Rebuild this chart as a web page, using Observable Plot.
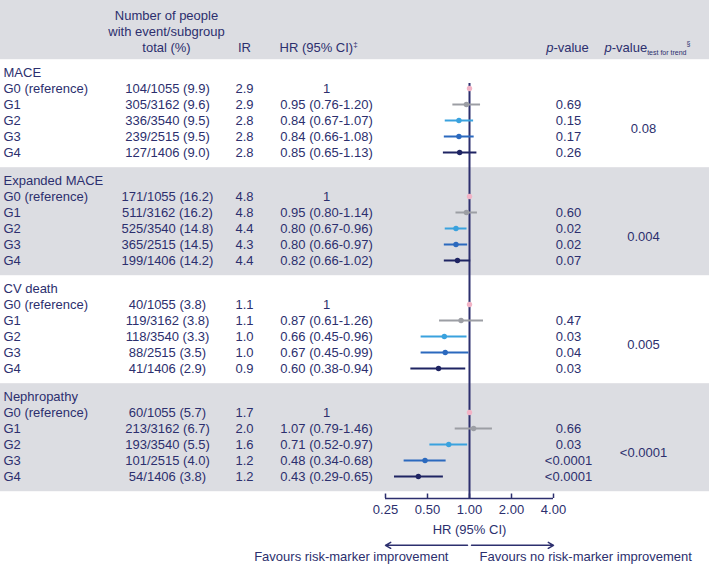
<!DOCTYPE html>
<html><head><meta charset="utf-8">
<script src="https://cdn.jsdelivr.net/npm/d3@7"></script>
<script src="https://cdn.jsdelivr.net/npm/@observablehq/plot@0.6"></script>
<style>
body{margin:0;background:#fff}
#chart{width:709px;height:564px}
</style>
</head><body><div id="chart"></div>
<script>
const sections = ["MACE", "Expanded MACE", "CV death", "Nephropathy"];
const groups = ["G0 (reference)", "G1", "G2", "G3", "G4"];
const events = [
  ["104/1055 (9.9)", "305/3162 (9.6)", "336/3540 (9.5)", "239/2515 (9.5)", "127/1406 (9.0)"],
  ["171/1055 (16.2)", "511/3162 (16.2)", "525/3540 (14.8)", "365/2515 (14.5)", "199/1406 (14.2)"],
  ["40/1055 (3.8)", "119/3162 (3.8)", "118/3540 (3.3)", "88/2515 (3.5)", "41/1406 (2.9)"],
  ["60/1055 (5.7)", "213/3162 (6.7)", "193/3540 (5.5)", "101/2515 (4.0)", "54/1406 (3.8)"]
];
const incidenceRate = [
  [2.9, 2.9, 2.8, 2.8, 2.8],
  [4.8, 4.8, 4.4, 4.3, 4.4],
  [1.1, 1.1, 1.0, 1.0, 0.9],
  [1.7, 2.0, 1.6, 1.2, 1.2]
];
const hazardRatio = [
  [1, 0.95, 0.84, 0.84, 0.85],
  [1, 0.95, 0.80, 0.80, 0.82],
  [1, 0.87, 0.66, 0.67, 0.60],
  [1, 1.07, 0.71, 0.48, 0.43]
];
const ciLow = [
  [1, 0.76, 0.67, 0.66, 0.65],
  [1, 0.80, 0.67, 0.66, 0.66],
  [1, 0.61, 0.45, 0.45, 0.38],
  [1, 0.79, 0.52, 0.34, 0.29]
];
const ciHigh = [
  [1, 1.20, 1.07, 1.08, 1.13],
  [1, 1.14, 0.96, 0.97, 1.02],
  [1, 1.26, 0.96, 0.99, 0.94],
  [1, 1.46, 0.97, 0.68, 0.65]
];
const pValues = [
  ["", "0.69", "0.15", "0.17", "0.26"],
  ["", "0.60", "0.02", "0.02", "0.07"],
  ["", "0.47", "0.03", "0.04", "0.03"],
  ["", "0.66", "0.03", "<0.0001", "<0.0001"]
];
const trendP = ["0.08", "0.004", "0.005", "<0.0001"];
const xTicks = [0.25, 0.5, 1, 2, 4];
const headerLines = ["Number of people", "with event/subgroup", "total (%)"];
const favoursLeft = "Favours risk-marker improvement";
const favoursRight = "Favours no risk-marker improvement";

const groupColors = ["#f2b3c6", "#9c9ea4", "#3aa2de", "#2b69be", "#1f2463"];
const navy = "#2c2f6e";
const gray = "#dcdde2";
const font = "'Liberation Sans', Arial, Helvetica, sans-serif";

// layout (row index units)
const SEC = 6.75;
const rows = sections.flatMap((s, si) => groups.map((g, gi) => ({
  si, gi, label: g,
  events: events[si][gi],
  ir: incidenceRate[si][gi].toFixed(1),
  hr: hazardRatio[si][gi], lo: ciLow[si][gi], hi: ciHigh[si][gi],
  hrText: gi === 0 ? "1" : `${hazardRatio[si][gi].toFixed(2)} (${ciLow[si][gi].toFixed(2)}-${ciHigh[si][gi].toFixed(2)})`,
  p: pValues[si][gi],
  pos: si * SEC + gi + 1
})));
const titles = sections.map((s, si) => ({label: s, pos: si * SEC}));
const trends = trendP.map((p, si) => ({p, pos: si * SEC + 3.5}));
const bands = [{y1: -4.5, y2: -0.8}].concat(
  sections.map((s, si) => ({si, y1: si * SEC - 0.8, y2: si * SEC + 5.95})).filter(d => d.si % 2 === 1)
);
const axisPos = 26.625;
const H1 = -3.5625, H2 = -2.5625, H3 = -1.5625;

const txt = (data, opts) => Plot.text(data, {frameAnchor: "left", fontSize: 13, fill: navy, ...opts});

const chart = Plot.plot({
  width: 709, height: 564,
  marginTop: 0, marginLeft: 0, marginRight: 0, marginBottom: 66,
  style: {fontFamily: font, fontSize: "13px", color: navy, background: "white"},
  x: {type: "log", domain: [0.25, 4], range: [385, 553], axis: null},
  y: {domain: [-4.5, 26.625], range: [0, 498], axis: null},
  marks: [
    Plot.rect(bands, {y1: "y1", y2: "y2", fill: gray}),
    // table header
    txt(headerLines, {y: (d, i) => [H1, H2, H3][i], text: d => d, dx: 166, textAnchor: "middle"}),
    txt(["IR"], {y: H3, text: d => d, dx: 244, textAnchor: "middle"}),
    txt(["HR (95% CI)"], {y: H3, text: d => d, dx: 279, textAnchor: "start", className: "hdr-hr"}),
    txt(["p-value"], {y: H3, text: d => d, dx: 567, textAnchor: "middle", className: "hdr-p"}),
    txt(["p-value"], {y: H3, text: d => d, dx: 604, textAnchor: "start", className: "hdr-trend"}),
    // section titles and rows
    txt(titles, {y: "pos", text: "label", dx: 3, textAnchor: "start"}),
    txt(rows, {y: "pos", text: "label", dx: 3, textAnchor: "start"}),
    txt(rows, {y: "pos", text: "events", dx: 167, textAnchor: "middle"}),
    txt(rows, {y: "pos", text: "ir", dx: 244, textAnchor: "middle"}),
    txt(rows, {y: "pos", text: "hrText", dx: 326, textAnchor: "middle"}),
    txt(rows, {y: "pos", text: "p", dx: 568, textAnchor: "middle"}),
    txt(trends, {y: "pos", text: "p", dx: 643, textAnchor: "middle"}),
    // forest
    Plot.ruleX([1], {y1: 0.68, y2: axisPos, stroke: navy, strokeWidth: 2}),
    Plot.ruleY(rows.filter(d => d.gi > 0), {x1: "lo", x2: "hi", y: "pos", stroke: d => groupColors[d.gi], strokeWidth: 2}),
    Plot.dot(rows, {x: "hr", y: "pos", r: 2.7, fill: d => groupColors[d.gi], stroke: "none"}),
    // x axis
    Plot.ruleY([axisPos], {x1: 0.25, x2: 4, stroke: navy, strokeWidth: 1.5}),
    Plot.ruleX(xTicks, {x: d => d, y1: axisPos - 0.28, y2: axisPos, stroke: navy, strokeWidth: 1.5}),
    Plot.axisX({ticks: xTicks, tickFormat: d => d.toFixed(2), tickSize: 0, tickPadding: 6, fontSize: 13, fill: navy, label: null}),
    Plot.text(["HR (95% CI)"], {x: 1, y: 28.6, text: d => d, fontSize: 13, fill: navy}),
    Plot.arrow([{x1: 1, x2: 0.25}, {x1: 1, x2: 4}], {x1: "x1", x2: "x2", y1: 29.55, y2: 29.55, stroke: navy, strokeWidth: 1.5, headLength: 6, insetStart: 2, bend: 0}),
    Plot.text([favoursLeft], {x: 1, y: 30.3, text: d => d, fontSize: 13, fill: navy, textAnchor: "end", dx: -21}),
    Plot.text([favoursRight], {x: 1, y: 30.3, text: d => d, fontSize: 13, fill: navy, textAnchor: "start", dx: 10})
  ]
});

// rich-text header pieces
const svg = d3.select(chart);
const hr = svg.select(".hdr-hr text");
hr.append("tspan").attr("font-size", "8px").attr("dy", "-5").text("‡");
for (const cls of [".hdr-p text", ".hdr-trend text"]) {
  const t = svg.select(cls);
  t.text(null);
  t.append("tspan").attr("font-style", "italic").text("p");
  t.append("tspan").text("-value");
}
const tr = svg.select(".hdr-trend text");
tr.append("tspan").attr("font-size", "7px").attr("dy", "3").text("test for trend");
tr.append("tspan").attr("font-size", "7px").attr("dy", "-9").text("§");

document.getElementById("chart").appendChild(chart);
</script>
</body></html>
